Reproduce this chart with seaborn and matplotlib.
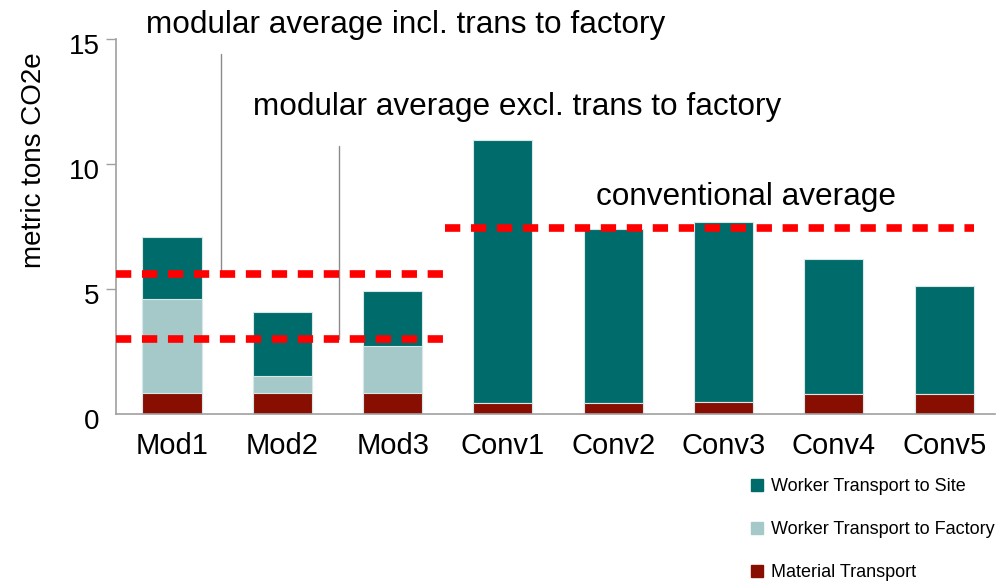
import numpy as np
import pandas as pd
import matplotlib
matplotlib.use("Agg")
import matplotlib.pyplot as plt
import matplotlib.transforms as mtransforms
from matplotlib.lines import Line2D
import seaborn as sns

# ---- data ----
categories = ["Mod1", "Mod2", "Mod3", "Conv1", "Conv2", "Conv3", "Conv4", "Conv5"]
material_transport = [0.86, 0.86, 0.86, 0.44, 0.44, 0.49, 0.79, 0.79]
worker_to_factory = [3.74, 0.68, 1.86, 0.0, 0.0, 0.0, 0.0, 0.0]
worker_to_site = [2.48, 2.55, 2.19, 10.50, 6.97, 7.17, 5.41, 4.32]
series_labels = ["Worker Transport to Site", "Worker Transport to Factory", "Material Transport"]
modular_avg_incl = 5.6
modular_avg_excl = 2.99
conventional_avg = 7.45
y_ticks = [0, 5, 10, 15]

# ---- style ----
sns.set_style("white")
plt.rcParams["font.family"] = ["Liberation Sans", "DejaVu Sans"]
plt.rcParams["text.color"] = "black"
plt.rcParams["xtick.labelcolor"] = "black"
plt.rcParams["ytick.labelcolor"] = "black"

c_site = "#006b6b"
c_fact = "#a5c9c9"
c_mat = "#870e00"
c_red = "#ff0000"
c_axis = "#a0a0a0"

df = pd.DataFrame({
    "cat": categories,
    "mat": material_transport,
    "fact": worker_to_factory,
    "site": worker_to_site,
})
df["lvl1"] = df["mat"]
df["lvl2"] = df["mat"] + df["fact"]
df["lvl3"] = df["lvl2"] + df["site"]

fig = plt.figure(figsize=(10.02, 5.83), dpi=100)
ax = fig.add_axes([0.1155, 0.2895, 0.8775, 0.6443])

bw = 0.535
edge = dict(edgecolor="#d8e8e8", linewidth=0.8)
sns.barplot(data=df, x="cat", y="lvl3", color=c_site, saturation=1, width=bw, ax=ax, **edge)
sns.barplot(data=df, x="cat", y="lvl2", color=c_fact, saturation=1, width=bw, ax=ax, **edge)
sns.barplot(data=df, x="cat", y="lvl1", color=c_mat, saturation=1, width=bw, ax=ax, **edge)

ax.set_xlim(-0.51, 7.46)
ax.set_ylim(0, 15)
ax.set_yticks(y_ticks)
ax.set_xlabel("")
ax.set_ylabel("")

# dashed average lines
dash = (0, (2.0, 1.4))
ax.hlines([modular_avg_incl, modular_avg_excl], -0.51, 2.475, colors=c_red,
          linestyles=[dash], linewidth=5.5, zorder=5)
ax.hlines([conventional_avg], 2.475, 7.27, colors=c_red, linestyles=[dash],
          linewidth=5.5, zorder=5)

# leader lines
ax.plot([0.44, 0.44], [modular_avg_incl, 14.39], color="#8a8a8a", lw=1.0, zorder=4, clip_on=False)
ax.plot([1.511, 1.511], [modular_avg_excl, 10.72], color="#8a8a8a", lw=1.0, zorder=4, clip_on=False)

# annotation texts
tfs = 22.7
ax.text(-0.236, 15.22, "modular average incl. trans to factory", fontsize=tfs,
        ha="left", va="baseline", clip_on=False)
ax.text(0.737, 11.95, "modular average excl. trans to factory", fontsize=tfs,
        ha="left", va="baseline")
ax.text(3.844, 8.35, "conventional average", fontsize=tfs, ha="left", va="baseline")

# spines & ticks
sns.despine(ax=ax, top=True, right=True)
for s in ["left", "bottom"]:
    ax.spines[s].set_color(c_axis)
    ax.spines[s].set_linewidth(1.2)
ax.tick_params(axis="x", length=0, pad=13, labelsize=21)
ax.tick_params(axis="y", left=True, length=7.5, width=1.0, color=c_axis, pad=4, labelsize=20)
ax.yaxis.get_major_ticks()[0].tick1line.set_visible(False)
off = mtransforms.ScaledTranslation(0, -5 / 100, fig.dpi_scale_trans)
for lab in ax.get_yticklabels():
    lab.set_transform(lab.get_transform() + off)

fig.text(34 / 1002, 1 - 160 / 583, "metric tons CO2e", rotation=90, fontsize=20,
         ha="center", va="center")

handles = [Line2D([], [], marker="s", ls="", color=c, markersize=8.6)
           for c in (c_site, c_fact, c_mat)]
fig.legend(handles, series_labels, loc="upper left", bbox_to_anchor=(748 / 1002, 1 - 478 / 583),
           frameon=False, fontsize=13, handlelength=1.0, handletextpad=0.3,
           labelspacing=1.45, borderpad=0, borderaxespad=0)

fig.savefig("out.png", dpi=100)
